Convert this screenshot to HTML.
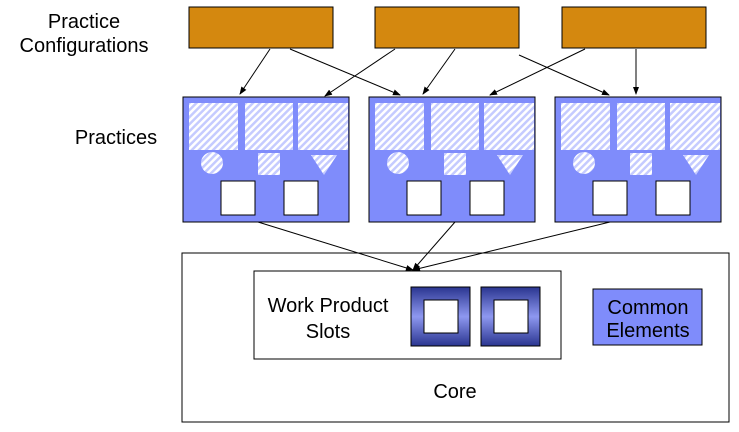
<html><body style="margin:0;background:#fff">
<svg width="739" height="432" xmlns="http://www.w3.org/2000/svg" font-family="Liberation Sans, Arial, sans-serif">
<defs>
<pattern id="h" width="5" height="5" patternUnits="userSpaceOnUse" patternTransform="rotate(45)">
<rect width="5" height="5" fill="#c5cbff"/><rect width="2.5" height="5" fill="#fff"/></pattern>
<marker id="a" markerWidth="8" markerHeight="8" refX="7" refY="4" orient="auto" markerUnits="userSpaceOnUse">
<path d="M0,1 L8,4 L0,7z" fill="#000"/></marker>
<linearGradient id="g" x1="0" y1="0" x2="0" y2="1"><stop offset="0" stop-color="#2a3590"/><stop offset=".5" stop-color="#8e98f0"/><stop offset="1" stop-color="#2a3590"/></linearGradient>
<g id="p">
<rect x="0" y="0" width="166" height="125" fill="#7f8cfb" stroke="#000"/>
<rect x="6" y="6" width="49" height="47" fill="url(#h)"/>
<rect x="62" y="6" width="48" height="47" fill="url(#h)"/>
<rect x="115" y="6" width="50" height="47" fill="url(#h)"/>
<circle cx="29" cy="66" r="11" fill="url(#h)"/>
<rect x="75" y="56" width="22" height="22" fill="url(#h)"/>
<path d="M128,58 L154,58 L141,78z" fill="url(#h)"/>
<rect x="38" y="84" width="34" height="34" fill="#fff" stroke="#000"/>
<rect x="101" y="84" width="34" height="34" fill="#fff" stroke="#000"/>
</g>
</defs>
<g font-size="20" fill="#000">
<text x="84" y="28" text-anchor="middle">Practice</text>
<text x="84" y="52" text-anchor="middle">Configurations</text>
<text x="116" y="144" text-anchor="middle">Practices</text>
</g>
<g fill="#d4880f" stroke="#000">
<rect x="189" y="7" width="144" height="41"/><rect x="375" y="7" width="144" height="41"/><rect x="562" y="7" width="144" height="41"/>
</g>
<use href="#p" x="183" y="97"/><use href="#p" x="369" y="97"/><use href="#p" x="555" y="97"/>
<g stroke="#000" stroke-width="1" marker-end="url(#a)">
<line x1="270" y1="49" x2="240" y2="94"/>
<line x1="290" y1="49" x2="400" y2="95"/>
<line x1="395" y1="49" x2="325" y2="96"/>
<line x1="455" y1="49" x2="423" y2="94"/>
<line x1="585" y1="49" x2="490" y2="95"/>
<line x1="519" y1="55" x2="609" y2="95"/>
<line x1="636" y1="49" x2="636" y2="94"/>
</g>
<rect x="182" y="253" width="547" height="169" fill="#fff" stroke="#000"/>
<g stroke="#000" marker-end="url(#a)">
<line x1="258" y1="222" x2="413" y2="270"/>
<line x1="455" y1="222" x2="413" y2="270"/>
<line x1="610" y1="222" x2="413" y2="270"/>
</g>
<rect x="254" y="271" width="307" height="88" fill="#fff" stroke="#000"/>
<g font-size="20" text-anchor="middle"><text x="328" y="312">Work Product</text><text x="328" y="338">Slots</text>
<text x="455" y="398">Core</text></g>
<rect x="411" y="287" width="59" height="59" fill="url(#g)" stroke="#000"/>
<rect x="424" y="300" width="34" height="33" fill="#fff" stroke="#000"/>
<rect x="481" y="287" width="59" height="59" fill="url(#g)" stroke="#000"/>
<rect x="494" y="300" width="34" height="33" fill="#fff" stroke="#000"/>
<rect x="593" y="289" width="109" height="56" fill="#7f8cfb" stroke="#000"/>
<g font-size="20" text-anchor="middle"><text x="648" y="314">Common</text><text x="648" y="337">Elements</text></g>
</svg>
</body></html>
